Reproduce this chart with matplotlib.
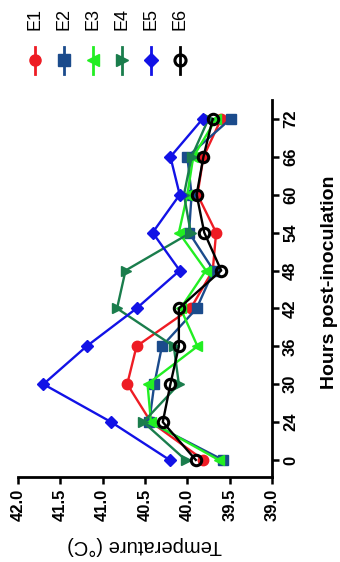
import numpy as np
import matplotlib.pyplot as plt
from matplotlib.lines import Line2D

plt.rcParams['font.family'] = ['Liberation Sans', 'DejaVu Sans']

# hours post-inoculation (categorical, evenly spaced)
hours = ['0', '24', '30', '36', '42', '48', '54', '60', '66', '72']

# rectal temperature per animal (deg C)
e1 = [39.81, 40.43, 40.71, 40.60, 39.96, 39.70, 39.66, 39.88, 39.81, 39.60]
e2 = [39.58, 40.45, 40.39, 40.30, 39.89, 39.69, 39.98, 39.95, 40.00, 39.49]
e3 = [39.63, 40.43, 40.47, 39.88, 40.08, 39.78, 40.10, 40.00, 39.93, 39.66]
e4 = [40.02, 40.52, 40.10, 40.16, 40.83, 40.73, 39.96, 40.04, 39.95, 39.75]
e5 = [40.21, 40.90, 41.70, 41.19, 40.60, 40.09, 40.41, 40.09, 40.20, 39.82]
e6 = [39.90, 40.29, 40.20, 40.10, 40.10, 39.60, 39.80, 39.89, 39.81, 39.70]

names = ['E1', 'E2', 'E3', 'E4', 'E5', 'E6']
series = [e1, e2, e3, e4, e5, e6]
colors = ['#ee1c24', '#1b4b8c', '#22ee22', '#1a7d4c', '#1212e6', '#000000']
markers = ['o', 's', '<', '>', 'D', 'o']

fig = plt.figure(figsize=(3.4, 5.62), dpi=100)
# the chart is drawn turned a quarter turn: temperature runs along x, hours up the right side
ax = fig.add_axes([18/340, 85/562, 254/340, 377/562])

pos = np.arange(len(hours))
for vals, c, m, name in zip(series, colors, markers, names):
    face = 'none' if name == 'E6' else c
    ax.plot(vals, pos, color=c, lw=1.7, marker=m, ms=7.5 if m != 'D' else 6.5,
            mfc=face, mec=c, mew=2.2 if name == 'E6' else 1, zorder=3)

ax.set_xlim(42, 39)
ax.set_ylim(-0.45, 9.5)
ax.set_xticks([42.0, 41.5, 41.0, 40.5, 40.0, 39.5, 39.0])
ax.set_xticklabels(['42.0', '41.5', '41.0', '40.5', '40.0', '39.5', '39.0'],
                   rotation=90, fontsize=12, fontweight='bold')
ax.yaxis.tick_right()
ax.set_yticks(pos)
ax.set_yticklabels(hours, rotation=90, va='center', fontsize=12, fontweight='bold')
ax.tick_params(axis='both', width=1.8, length=5, direction='out')
ax.tick_params(axis='y', pad=3)

for s in ['left', 'top']:
    ax.spines[s].set_visible(False)
for s in ['bottom', 'right']:
    ax.spines[s].set_linewidth(2)

fig.text(145/340, 1 - 546/562, 'Temperature (°C)', rotation=180,
         ha='center', va='center', fontsize=14.5)
fig.text(329/340, 1 - 282/562, 'Hours post-inoculation', rotation=90,
         ha='center', va='center', fontsize=14, fontweight='bold')

# legend along the top
for i, (name, c, m) in enumerate(zip(names, colors, markers)):
    x = (35 + 29 * i) / 340
    fig.add_artist(Line2D([x, x], [1 - 47/562, 1 - 74/562], color=c, lw=2))
    fig.add_artist(Line2D([x], [1 - 60/562], color=c, marker=m,
                          ms=8 if m != 'D' else 7,
                          mfc='none' if name == 'E6' else c, mec=c,
                          mew=2.2 if name == 'E6' else 1))
    fig.text(x, 1 - 19/562, name, rotation=90, ha='center', va='center', fontsize=13)

fig.savefig('out.png', dpi=100)
